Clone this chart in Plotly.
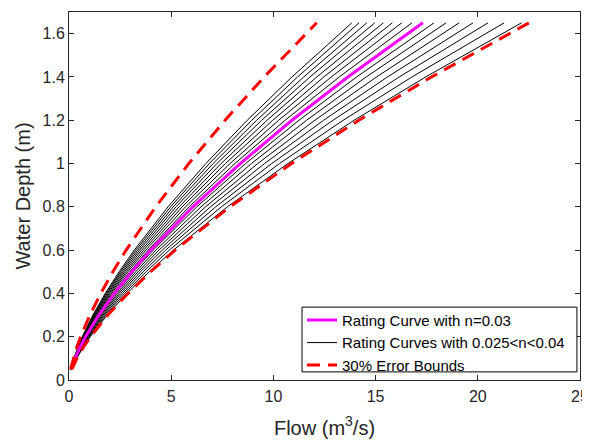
import plotly.graph_objects as go

# Water depth (m) sampled along every rating curve
depth = [0.05, 0.1, 0.15, 0.2, 0.3, 0.4, 0.5, 0.6, 0.8, 1.0, 1.2, 1.4, 1.65]

# Reference rating curve, n = 0.03 (flow in m3/s)
flow_ref = [0.109, 0.297, 0.535, 0.812, 1.461, 2.217, 3.066, 3.992, 6.060, 8.375, 10.907, 13.642, 17.31]

# 30% error bounds around the reference curve
flow_low = [0.076, 0.208, 0.374, 0.568, 1.023, 1.552, 2.146, 2.794, 4.242, 5.862, 7.635, 9.549, 12.12]
flow_high = [0.142, 0.386, 0.695, 1.055, 1.899, 2.882, 3.986, 5.190, 7.878, 10.888, 14.179, 17.735, 22.50]

# Rating curves for 0.025 <= n <= 0.04
n_values = [0.025, 0.026, 0.027, 0.028, 0.029, 0.030, 0.031, 0.032,
            0.033, 0.034, 0.035, 0.036, 0.037, 0.038, 0.039, 0.040]
flow_n = [
    [0.139, 0.380, 0.684, 1.038, 1.869, 2.836, 3.921, 5.106, 7.751, 10.711, 13.950, 17.449, 22.14],
    [0.134, 0.365, 0.658, 0.998, 1.797, 2.727, 3.770, 4.909, 7.454, 10.300, 13.415, 16.779, 21.29],
    [0.129, 0.352, 0.633, 0.961, 1.730, 2.626, 3.631, 4.727, 7.177, 9.918, 12.917, 16.156, 20.50],
    [0.124, 0.339, 0.611, 0.927, 1.669, 2.533, 3.501, 4.559, 6.921, 9.565, 12.457, 15.581, 19.77],
    [0.120, 0.328, 0.590, 0.895, 1.611, 2.445, 3.381, 4.402, 6.683, 9.236, 12.029, 15.045, 19.09],
    [0.116, 0.317, 0.570, 0.865, 1.557, 2.363, 3.267, 4.255, 6.459, 8.926, 11.625, 14.540, 18.45],
    [0.112, 0.306, 0.552, 0.838, 1.507, 2.288, 3.163, 4.119, 6.253, 8.641, 11.254, 14.075, 17.86],
    [0.109, 0.297, 0.535, 0.811, 1.460, 2.216, 3.064, 3.989, 6.057, 8.370, 10.901, 13.634, 17.30],
    [0.105, 0.288, 0.519, 0.787, 1.416, 2.150, 2.972, 3.869, 5.875, 8.118, 10.573, 13.224, 16.78],
    [0.102, 0.279, 0.503, 0.764, 1.374, 2.085, 2.883, 3.754, 5.700, 7.876, 10.258, 12.830, 16.28],
    [0.099, 0.271, 0.489, 0.742, 1.335, 2.027, 2.802, 3.648, 5.539, 7.654, 9.968, 12.468, 15.82],
    [0.097, 0.264, 0.475, 0.721, 1.298, 1.970, 2.724, 3.547, 5.385, 7.441, 9.691, 12.121, 15.38],
    [0.094, 0.257, 0.462, 0.702, 1.263, 1.916, 2.649, 3.450, 5.237, 7.238, 9.426, 11.790, 14.96],
    [0.091, 0.250, 0.450, 0.683, 1.230, 1.866, 2.580, 3.360, 5.101, 7.049, 9.181, 11.483, 14.57],
    [0.089, 0.244, 0.438, 0.666, 1.198, 1.818, 2.513, 3.272, 4.968, 6.865, 8.941, 11.183, 14.19],
    [0.087, 0.237, 0.428, 0.649, 1.168, 1.773, 2.451, 3.192, 4.845, 6.696, 8.721, 10.907, 13.84],
]

x_ticks = [0, 5, 10, 15, 20, 25]
y_ticks = [0, 0.2, 0.4, 0.6, 0.8, 1, 1.2, 1.4, 1.6]

fig = go.Figure()

for i, (n, flows) in enumerate(zip(n_values, flow_n)):
    fig.add_trace(go.Scatter(
        x=flows, y=depth, mode="lines",
        line=dict(color="black", width=1),
        name="Rating Curves with 0.025<n<0.04",
        legendgroup="ncurves", showlegend=(i == 0), legendrank=2,
    ))

fig.add_trace(go.Scatter(
    x=flow_ref, y=depth, mode="lines",
    line=dict(color="#FF00FF", width=3),
    name="Rating Curve with n=0.03", legendrank=1,
))

fig.add_trace(go.Scatter(
    x=flow_low, y=depth, mode="lines",
    line=dict(color="#FF0000", width=3, dash="13px,8px"),
    name="30% Error Bounds", legendgroup="bounds", legendrank=3,
))
fig.add_trace(go.Scatter(
    x=flow_high, y=depth, mode="lines",
    line=dict(color="#FF0000", width=3, dash="13px,8px"),
    name="30% Error Bounds", legendgroup="bounds", showlegend=False,
))

axis_style = dict(
    showline=True, linecolor="#262626", linewidth=1, mirror="ticks",
    ticks="inside", ticklen=5, tickwidth=1, tickcolor="#262626",
    showgrid=False, zeroline=False, automargin=False,
    ticklabeloverflow="allow",
    tickfont=dict(size=16, color="#262626"),
)

fig.update_xaxes(range=[0, 25], tickvals=x_ticks, ticklabelstandoff=2,
                 title=dict(text="Flow (m<sup>3</sup>/s)",
                            font=dict(size=20, color="#262626"), standoff=16), **axis_style)
fig.update_yaxes(range=[0, 1.7], tickvals=y_ticks, ticklabelstandoff=0,
                 title=dict(text="Water Depth (m)",
                            font=dict(size=20, color="#262626"), standoff=6), **axis_style)

# tight legend frame like MATLAB's (plotly pads its own legend box)
fig.add_shape(type="rect", xref="paper", yref="paper",
              x0=0.456, x1=0.994, y0=0.022, y1=0.198,
              fillcolor="white", line=dict(color="black", width=1), layer="above")

# the page body adds an 8px offset, so the figure is sized to fit inside it
fig.update_layout(
    width=582, height=433,
    margin=dict(l=61, r=10, t=4, b=61),
    paper_bgcolor="white", plot_bgcolor="white",
    font=dict(family="Liberation Sans, Arial, sans-serif", color="#262626"),
    legend=dict(
        x=0.456, y=-0.005, xanchor="left", yanchor="bottom",
        bgcolor="rgba(0,0,0,0)", borderwidth=0,
        font=dict(size=15, color="black"), tracegroupgap=0,
        itemwidth=30,
    ),
)

fig.write_html("out.html")
